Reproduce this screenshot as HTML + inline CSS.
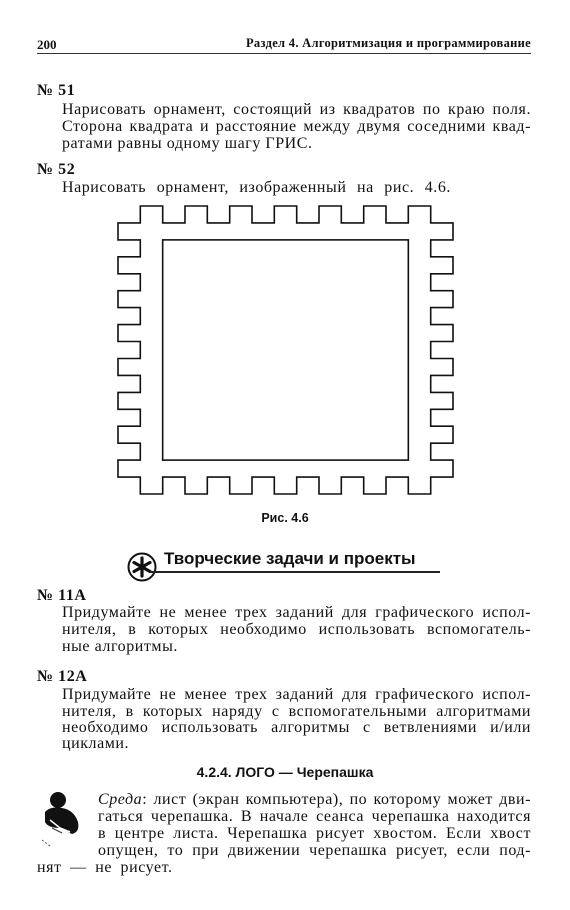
<!DOCTYPE html>
<html><head><meta charset="utf-8">
<style>
html,body{margin:0;padding:0;background:#fff;}
body{width:570px;height:910px;position:relative;overflow:hidden;color:#111;font-family:"Liberation Serif","DejaVu Serif",serif;}
.l{position:absolute;font-size:16px;line-height:17px;white-space:nowrap;letter-spacing:0.55px;}
.j{text-align:justify;text-align-last:justify;white-space:normal;height:17px;overflow:hidden;}
.b{font-weight:bold;}
.s{font-family:"Liberation Sans","DejaVu Sans",sans-serif;font-weight:bold;letter-spacing:0;}
</style></head>
<body>
<div class="l b" style="left:37px;top:36px;font-size:13px;letter-spacing:0;">200</div>
<div class="l b" style="left:200px;top:35px;font-size:12.5px;width:331px;text-align:right;letter-spacing:0.3px;">Раздел 4. Алгоритмизация и программирование</div>
<div style="position:absolute;left:37px;top:53px;width:494px;height:1px;background:#333;"></div>

<div class="l b" style="left:37px;top:82px;">№ 51</div>
<div class="l j" style="left:62px;top:101px;width:469px;">Нарисовать орнамент, состоящий из квадратов по краю поля.</div>
<div class="l j" style="left:62px;top:118px;width:469px;">Сторона квадрата и расстояние между двумя соседними квад-</div>
<div class="l" style="left:62px;top:135px;">ратами равны одному шагу ГРИС.</div>

<div class="l b" style="left:37px;top:161px;">№ 52</div>
<div class="l" style="left:62px;top:179px;word-spacing:6px;">Нарисовать орнамент, изображенный на рис. 4.6.</div>

<svg style="position:absolute;left:0;top:0" width="570" height="910">
<path id="outer" fill="none" stroke="#111" stroke-width="1.6"/>
<rect id="inner" fill="none" stroke="#111" stroke-width="1.6"/>
</svg>
<div class="l s" style="left:235px;top:510px;width:100px;text-align:center;font-size:12.5px;">Рис. 4.6</div>

<svg style="position:absolute;left:126px;top:551px" width="32" height="32">
<circle cx="16" cy="16" r="13.5" fill="#fff" stroke="#111" stroke-width="2"/>
<g stroke="#111" stroke-width="3.2" stroke-linecap="round">
<line x1="16" y1="7" x2="16" y2="25"/><line x1="8" y1="11.5" x2="24" y2="20.5"/><line x1="8" y1="20.5" x2="24" y2="11.5"/></g>
</svg>
<div class="l s" style="left:164px;top:549px;font-size:17px;line-height:20px;">Творческие задачи и проекты</div>
<div style="position:absolute;left:150px;top:571px;width:290px;height:1.5px;background:#222;"></div>

<div class="l b" style="left:37px;top:587px;">№ 11А</div>
<div class="l j" style="left:62px;top:604px;width:469px;">Придумайте не менее трех заданий для графического испол-</div>
<div class="l j" style="left:62px;top:621px;width:469px;">нителя, в которых необходимо использовать вспомогатель-</div>
<div class="l" style="left:62px;top:638px;">ные алгоритмы.</div>

<div class="l b" style="left:37px;top:668px;">№ 12А</div>
<div class="l j" style="left:62px;top:686px;width:469px;">Придумайте не менее трех заданий для графического испол-</div>
<div class="l j" style="left:62px;top:703px;width:469px;">нителя, в которых наряду с вспомогательными алгоритмами</div>
<div class="l j" style="left:62px;top:719px;width:469px;">необходимо использовать алгоритмы с ветвлениями и/или</div>
<div class="l" style="left:62px;top:735px;">циклами.</div>

<div class="l s" style="left:150px;top:764px;width:270px;text-align:center;font-size:14px;">4.2.4. ЛОГО — Черепашка</div>

<svg style="position:absolute;left:38px;top:788px" width="50" height="70">
<circle cx="20" cy="12" r="8" fill="#111"/>
<path d="M7 24 Q12 18 24 20 Q36 22 40 34 Q42 44 34 46 L22 40 Q10 40 7 34Z" fill="#111"/>
<path d="M12 32 L22 40 L32 44" stroke="#fff" stroke-width="1.5" fill="none"/>
<line x1="14" y1="40" x2="24" y2="45" stroke="#333" stroke-width="1"/>
<line x1="4" y1="52" x2="12" y2="58" stroke="#555" stroke-width="1" stroke-dasharray="2 2"/>
</svg>

<div class="l j" style="left:98px;top:791px;width:433px;"><i>Среда</i>: лист (экран компьютера), по которому может дви-</div>
<div class="l j" style="left:98px;top:808px;width:433px;">гаться черепашка. В начале сеанса черепашка находится</div>
<div class="l j" style="left:98px;top:825px;width:433px;">в центре листа. Черепашка рисует хвостом. Если хвост</div>
<div class="l j" style="left:98px;top:842px;width:433px;">опущен, то при движении черепашка рисует, если под-</div>
<div class="l" style="left:37px;top:859px;word-spacing:4px;">нят — не рисует.</div>

<script>
// ornament grid definition (in grid steps)
const gridCols = 15;          // outer width in steps
const gridRows = 17;          // outer height in steps
const topTeeth = [1,3,5,7,9,11,13];
const sideTeeth = [1,3,5,7,9,11,13,15];
const innerBox = [2,2,13,15]; // x0,y0,x1,y1

const X0=118, Y0=206, SX=(453-118)/gridCols, SY=(494-206)/gridRows;
const px=u=>X0+u*SX, py=v=>Y0+v*SY;
let pts=[];
pts.push([1,1]);
topTeeth.forEach(t=>{pts.push([t,1],[t,0],[t+1,0],[t+1,1]);});
sideTeeth.forEach(t=>{pts.push([gridCols-1,t],[gridCols,t],[gridCols,t+1],[gridCols-1,t+1]);});
[...topTeeth].reverse().forEach(t=>{pts.push([t+1,gridRows-1],[t+1,gridRows],[t,gridRows],[t,gridRows-1]);});
[...sideTeeth].reverse().forEach(t=>{pts.push([1,t+1],[0,t+1],[0,t],[1,t]);});
const d='M'+pts.map(p=>px(p[0]).toFixed(1)+' '+py(p[1]).toFixed(1)).join(' L')+' Z';
document.getElementById('outer').setAttribute('d',d);
const r=document.getElementById('inner');
r.setAttribute('x',px(innerBox[0]));r.setAttribute('y',py(innerBox[1]));
r.setAttribute('width',px(innerBox[2])-px(innerBox[0]));r.setAttribute('height',py(innerBox[3])-py(innerBox[1]));
</script>
</body></html>
